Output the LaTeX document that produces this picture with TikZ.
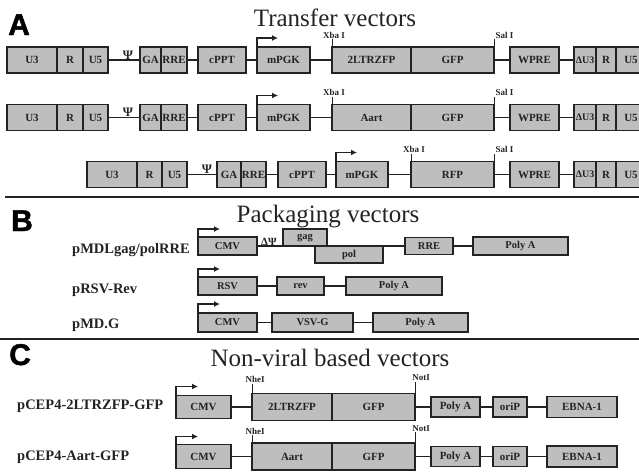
\documentclass[tikz,border=0pt]{standalone}
\usepackage{fontspec}
\setmainfont{Liberation Serif}
\newfontfamily\panelfont[FakeBold=1.5]{Liberation Sans}
\usetikzlibrary{arrows.meta}
\definecolor{segfill}{RGB}{190,190,190}
\definecolor{ink}{RGB}{35,35,35}
\tikzset{
  segbox/.style={draw=ink, fill=segfill, line width=1.3pt, inner sep=0pt, outer sep=0pt,
    text=ink, font=\bfseries\fontsize{11}{11}\selectfont},
  link/.style={draw=ink, line width=1.3pt},
  promoter/.style={draw=ink, line width=1.2pt, -{Latex[length=6pt,width=6pt]}},
  sitetick/.style={draw=ink, line width=1pt},
  sitelabel/.style={font=\bfseries\fontsize{9}{9}\selectfont, text=ink, inner sep=0pt},
  psilabel/.style={font=\bfseries\fontsize{13}{13}\selectfont, text=ink, inner sep=0pt},
  vlabel/.style={font=\bfseries\fontsize{14.5}{14.5}\selectfont, text=ink, inner sep=0pt, anchor=base west},
  title/.style={font=\fontsize{25}{25}\selectfont, text=ink, inner sep=0pt, anchor=base},
  panel/.style={font=\panelfont\bfseries\fontsize{30}{30}\selectfont, text=black, inner sep=0pt, anchor=base west},
  divider/.style={draw=ink, line width=2pt},
  small/.style={font=\bfseries\fontsize{10.5}{10.5}\selectfont},
}
% \seg[options]{name}{x left}{x right}{y centre}{height}{text}
\newcommand\seg[7][]{\node[segbox,anchor=west,minimum width={(#4)-(#3)},minimum height=#6,#1] (#2) at (#3,#5) {#7};}
% one lentiviral transfer vector: suffix, centre line, insert name
\newcommand\transferrow[3]{%
  \seg{uthree#1}{7}{57}{#2}{26}{U3}
  \seg{rr#1}{57}{83}{#2}{26}{R}
  \seg{ufive#1}{83}{108}{#2}{26}{U5}
  \seg{ga#1}{140}{161}{#2}{26}{GA}
  \seg{rre#1}{161}{187}{#2}{26}{RRE}
  \seg{cppt#1}{198}{246}{#2}{26}{cPPT}
  \seg{mpgk#1}{257}{310}{#2}{26}{mPGK}
  \seg{ins#1}{332}{411}{#2}{26}{#3}
  \seg{gfp#1}{411}{494}{#2}{26}{GFP}
  \seg{wpre#1}{510}{559}{#2}{26}{WPRE}
  \seg[font=\bfseries\fontsize{10}{10}\selectfont]{dthree#1}{574}{596}{#2}{26}{ΔU3}
  \seg{rrb#1}{596}{616}{#2}{26}{R}
  \seg{ufiveb#1}{616}{646}{#2}{26}{U5}
  \draw[link] (ufive#1.east) -- (ga#1.west);
  \node[psilabel, anchor=south] (psi#1) at (128,#2-0.5) {Ψ};
  \draw[link] (rre#1.east) -- (cppt#1.west);
  \draw[link] (cppt#1.east) -- (mpgk#1.west);
  \draw[link] (mpgk#1.east) -- (ins#1.west);
  \draw[link] (gfp#1.east) -- (wpre#1.west);
  \draw[link] (wpre#1.east) -- (dthree#1.west);
  \draw[promoter] (mpgk#1.north west) -- ++(0,-9) -- ++(21,0);
  \draw[sitetick] (ins#1.north west) -- ++(0,-8) node[sitelabel, anchor=south, xshift=2pt] (xba#1) {Xba I};
  \draw[sitetick] (gfp#1.north east) -- ++(0,-8) node[sitelabel, anchor=south west, xshift=1pt] (sal#1) {Sal I};
}
\begin{document}
\begin{tikzpicture}[x=1pt,y=-1pt]
\useasboundingbox (0,0) rectangle (639,474);

% ---------------- A: transfer vectors ----------------
\node[panel] (pA) at (8,35) {A};
\node[title] (ttlA) at (335,26) {Transfer vectors};
\transferrow{a}{60}{2LTRZFP}
\transferrow{b}{117.5}{Aart}

\seg{uthreec}{87}{137}{174.5}{26}{U3}
\seg{rrc}{137}{162}{174.5}{26}{R}
\seg{ufivec}{162}{187}{174.5}{26}{U5}
\seg{gac}{217}{241}{174.5}{26}{GA}
\seg{rrec}{241}{266}{174.5}{26}{RRE}
\seg{cpptc}{278}{326}{174.5}{26}{cPPT}
\seg{mpgkc}{336}{388}{174.5}{26}{mPGK}
\seg{rfpc}{411}{494}{174.5}{26}{RFP}
\seg{wprec}{510}{559}{174.5}{26}{WPRE}
\seg[font=\bfseries\fontsize{10}{10}\selectfont]{dthreec}{574}{596}{174.5}{26}{ΔU3}
\seg{rrbc}{596}{616}{174.5}{26}{R}
\seg{ufivebc}{616}{646}{174.5}{26}{U5}
\draw[link] (ufivec.east) -- (gac.west);
\node[psilabel, anchor=south] (psic) at (207,174) {Ψ};
\draw[link] (rrec.east) -- (cpptc.west);
\draw[link] (cpptc.east) -- (mpgkc.west);
\draw[link] (mpgkc.east) -- (rfpc.west);
\draw[link] (rfpc.east) -- (wprec.west);
\draw[link] (wprec.east) -- (dthreec.west);
\draw[promoter] (mpgkc.north west) -- ++(0,-9) -- ++(21,0);
\draw[sitetick] (rfpc.north west) -- ++(0,-8) node[sitelabel, anchor=south, xshift=3pt] (xbac) {Xba I};
\draw[sitetick] (rfpc.north east) -- ++(0,-8) node[sitelabel, anchor=south west, xshift=1pt] (salc) {Sal I};

\coordinate (divAl) at (5,197);
\coordinate (divAr) at (639,197);
\draw[divider] (divAl) -- (divAr);

% ---------------- B: packaging vectors ----------------
\node[panel] (pB) at (11,231) {B};
\node[title] (ttlB) at (328,222) {Packaging vectors};

\node[vlabel] (nmdl) at (72,253) {pMDLgag/polRRE};
\seg[small]{cmvb}{198}{257}{246}{18}{CMV}
\seg[small]{gag}{283}{327}{237.5}{17}{gag}
\seg[small]{pol}{315}{383}{254.5}{17}{pol}
\seg[small]{rreb}{405}{453}{246}{17}{RRE}
\seg[small]{polyab}{473}{568}{246}{18}{Poly A}
\draw[link] (cmvb.east) -- (pol.north west);
\node[sitelabel, font=\bfseries\fontsize{11}{11}\selectfont, anchor=south west] (dpsi) at (261,246) {ΔΨ};
\draw[link] (pol.north east) -- (rreb.west);
\draw[link] (rreb.east) -- (polyab.west);
\draw[promoter] (cmvb.north west) -- ++(0,-8) -- ++(22,0);

\node[vlabel] (nrsv) at (72,293) {pRSV-Rev};
\seg[small]{rsv}{198}{257}{286}{18}{RSV}
\seg[small]{rev}{277}{324}{286}{18}{rev}
\seg[small]{polyar}{346}{442}{286}{18}{Poly A}
\draw[link] (rsv.east) -- (rev.west);
\draw[link] (rev.east) -- (polyar.west);
\draw[promoter] (rsv.north west) -- ++(0,-8) -- ++(22,0);

\node[vlabel] (nmdg) at (72,328) {pMD.G};
\seg[small]{cmvg}{198}{257}{322.5}{19}{CMV}
\seg[small]{vsvg}{272}{353}{322.5}{19}{VSV-G}
\seg[small]{polyag}{373}{468}{322.5}{19}{Poly A}
\draw[link] (cmvg.east) -- (vsvg.west);
\draw[link] (vsvg.east) -- (polyag.west);
\draw[promoter] (cmvg.north west) -- ++(0,-9) -- ++(22,0);

\coordinate (divBl) at (0,339);
\coordinate (divBr) at (639,339);
\draw[divider] (divBl) -- (divBr);

% ---------------- C: non-viral vectors ----------------
\node[panel] (pC) at (9,365) {C};
\node[title] (ttlC) at (330,366) {Non-viral based vectors};

\node[vlabel] (ncep1) at (17,409) {pCEP4-2LTRZFP-GFP};
\seg{cmvc}{176}{231}{407}{23}{CMV}
\seg{zfpc}{252}{332}{407}{27}{2LTRZFP}
\seg{gfpc}{332}{415}{407}{27}{GFP}
\seg{polyac}{431}{480}{407}{20}{Poly A}
\seg{oripc}{493}{527}{407}{20}{oriP}
\seg{ebnac}{547}{617}{407}{21}{EBNA-1}
\draw[link] (cmvc.east) -- (zfpc.west);
\draw[link] (gfpc.east) -- (polyac.west);
\draw[link] (polyac.east) -- (oripc.west);
\draw[link] (oripc.east) -- (ebnac.west);
\draw[promoter] (cmvc.north west) -- ++(0,-9) -- ++(22,0);
\draw[sitetick] (zfpc.north west) -- ++(0,-10) node[sitelabel, anchor=south, xshift=3pt] (nhec) {NheI};
\draw[sitetick] (gfpc.north east) -- ++(0,-12) node[sitelabel, anchor=south, xshift=6pt] (notc) {NotI};

\node[vlabel] (ncep2) at (17,460) {pCEP4-Aart-GFP};
\seg{cmvd}{176}{231}{456.5}{24}{CMV}
\seg{aartd}{252}{332}{456.5}{27}{Aart}
\seg{gfpd}{332}{415}{456.5}{27}{GFP}
\seg{polyad}{431}{480}{456.5}{20}{Poly A}
\seg{oripd}{493}{527}{456.5}{20}{oriP}
\seg{ebnad}{547}{617}{456.5}{21}{EBNA-1}
\draw[link] (cmvd.east) -- (aartd.west);
\draw[link] (gfpd.east) -- (polyad.west);
\draw[link] (polyad.east) -- (oripd.west);
\draw[link] (oripd.east) -- (ebnad.west);
\draw[promoter] (cmvd.north west) -- ++(0,-8) -- ++(22,0);
\draw[sitetick] (aartd.north west) -- ++(0,-8) node[sitelabel, anchor=south, xshift=3pt] (ned) {NheI};
\draw[sitetick] (gfpd.north east) -- ++(0,-11) node[sitelabel, anchor=south, xshift=6pt] (notd) {NotI};
\end{tikzpicture}
\end{document}
